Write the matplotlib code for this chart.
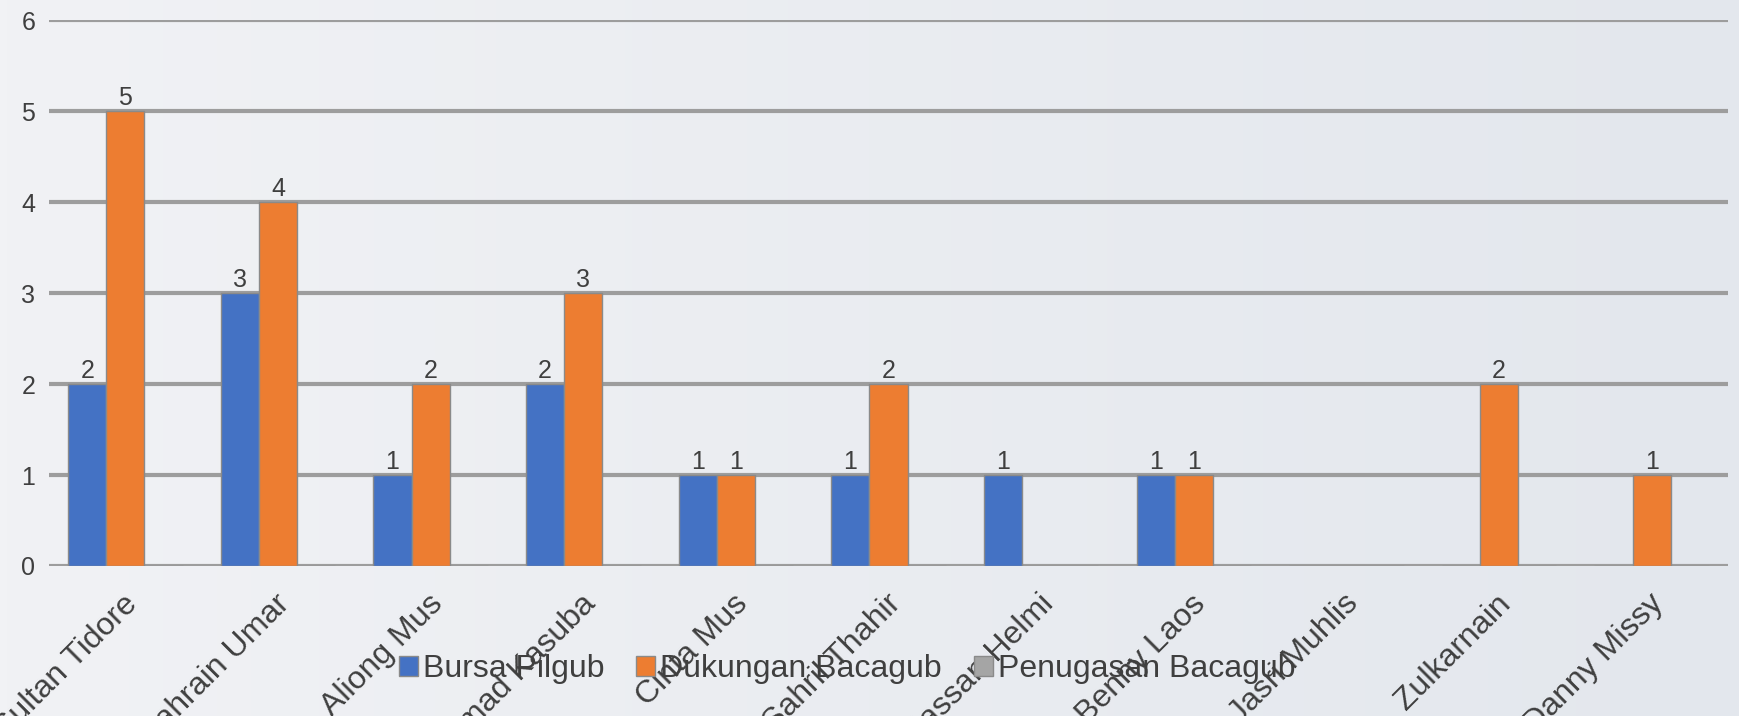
import matplotlib.pyplot as plt
import numpy as np
from matplotlib.colors import LinearSegmentedColormap

plt.rcParams["font.family"] = ["Liberation Sans", "DejaVu Sans"]

# ── data ──────────────────────────────────────────────────────────────────────
categories = ["Sultan Tidore", "Bahrain Umar", "Aliong Mus", "Muhammad Kasuba",
              "Cinta Mus", "Sahril Thahir", "Hassan Helmi", "Benny Laos",
              "Jasri Muhlis", "Zulkarnain", "Danny Missy"]
bursa_pilgub = [2, 3, 1, 2, 1, 1, 1, 1, 0, 0, 0]
dukungan_bacagub = [5, 4, 2, 3, 1, 2, 0, 1, 0, 2, 1]
penugasan_bacagub = [0, 0, 0, 0, 0, 0, 0, 0, 0, 0, 0]

series = [("Bursa Pilgub", bursa_pilgub, "#4472C4"),
          ("Dukungan Bacagub", dukungan_bacagub, "#ED7D31"),
          ("Penugasan Bacagub", penugasan_bacagub, "#A5A5A5")]

TEXT = "#3f3f3f"
GRID = "#9d9d9d"

fig = plt.figure(figsize=(17.39, 7.16), dpi=100)

# soft background gradient
bg = fig.add_axes([0, 0, 1, 1], zorder=-10)
grad = np.linspace(0, 1, 256)[None, :]
cmap = LinearSegmentedColormap.from_list("bg", ["#f1f2f5", "#e3e7ed"])
bg.imshow(grad, aspect="auto", cmap=cmap, extent=[0, 1, 0, 1])
bg.axis("off")

ax = fig.add_axes([0.0282, 0.2095, 0.9655, 0.7625])
ax.patch.set_alpha(0)

x = np.arange(len(categories))
w = 0.25
for k, (name, vals, col) in enumerate(series):
    bars = ax.bar(x + (k - 1) * w, vals, w, color=col, edgecolor="#8a8a8a",
                  linewidth=1.0, label=name, zorder=3)
    for b, v in zip(bars, vals):
        if v:
            ax.annotate(f"{v}", (b.get_x() + b.get_width() / 2, v),
                        xytext=(0, 1), textcoords="offset points",
                        ha="center", va="bottom", fontsize=18, color=TEXT)

ax.set_xlim(-0.5, len(categories) - 0.5)
ax.set_ylim(0, 6)
ax.set_yticks(range(7))
ax.yaxis.grid(True, color=GRID, linewidth=3.0, zorder=1)
ax.set_axisbelow(True)
for s in ax.spines.values():
    s.set_visible(False)
ax.tick_params(axis="y", length=0, pad=10, labelsize=18, labelcolor=TEXT)
ax.tick_params(axis="x", length=0, pad=24, labelsize=23, labelcolor=TEXT)
ax.set_xticks(x + 0.05)
ax.set_xticklabels(categories, rotation=45, ha="right", va="center",
                   rotation_mode="anchor")

fig.legend(loc="center", bbox_to_anchor=(0.487, 0.065), ncol=3, frameon=False,
           fontsize=23, labelcolor=TEXT, handlelength=0.6, handleheight=0.6,
           handletextpad=0.15, columnspacing=1.0)

fig.savefig("out.png", dpi=100)
